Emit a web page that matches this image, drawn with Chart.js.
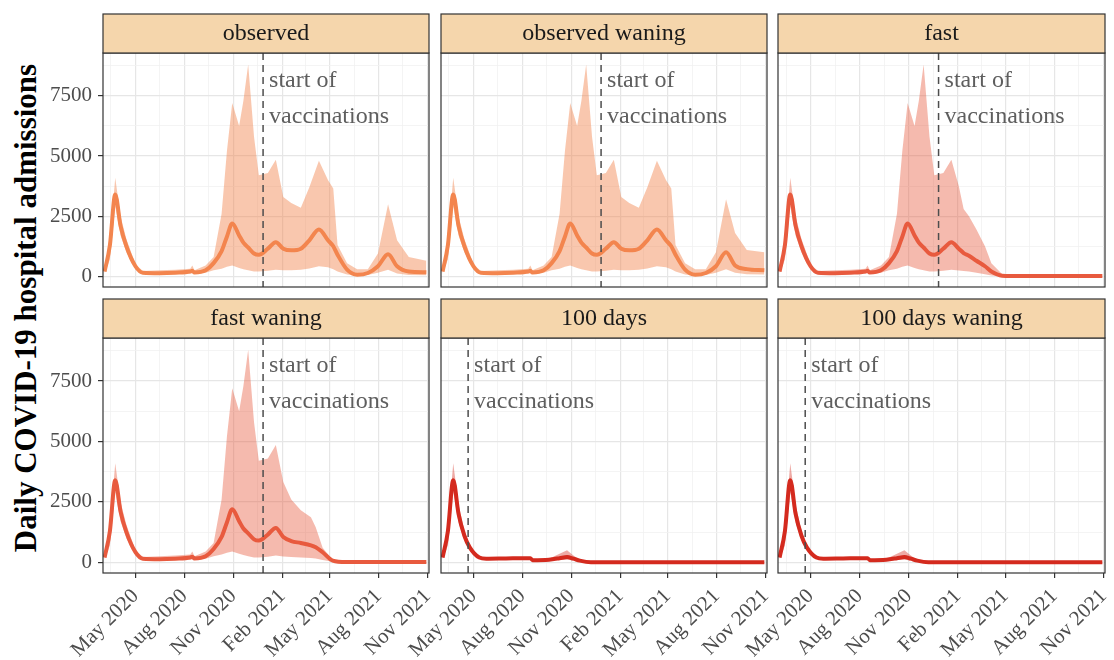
<!DOCTYPE html>
<html>
<head>
<meta charset="utf-8">
<script src="https://cdn.jsdelivr.net/npm/chart.js@4.4.1/dist/chart.umd.min.js"></script>
<style>
body { margin:0; background:#fff; width:1114px; height:660px; overflow:hidden; position:relative; }
canvas { position:absolute; left:0; top:0; }
#ytitle { position:absolute; left:26px; top:308px; transform:translate(-50%,-50%) rotate(-90deg); white-space:nowrap;
  font:bold 31px "Liberation Serif", serif; color:#000; }
</style>
</head>
<body>
<div id="ytitle">Daily COVID-19 hospital admissions</div>
<canvas id="c0" width="1114" height="660"></canvas>
<canvas id="c1" width="1114" height="660"></canvas>
<canvas id="c2" width="1114" height="660"></canvas>
<canvas id="c3" width="1114" height="660"></canvas>
<canvas id="c4" width="1114" height="660"></canvas>
<canvas id="c5" width="1114" height="660"></canvas>
<script>
// --- data ---
const obsDates = ['2020-03-04','2020-03-14','2020-03-24','2020-04-03','2020-04-14','2020-05-01','2020-05-15','2020-06-15','2020-07-15','2020-08-12',
  '2020-08-16','2020-08-20','2020-09-10','2020-09-25','2020-10-10','2020-10-20','2020-10-30','2020-11-12','2020-11-20','2020-11-29',
  '2020-12-10','2020-12-19','2021-01-05','2021-01-20','2021-02-03','2021-02-18','2021-03-08','2021-03-24','2021-04-11','2021-04-28',
  '2021-05-08','2021-05-16','2021-06-03','2021-06-22','2021-07-12','2021-07-31','2021-08-19','2021-09-05','2021-09-27','2021-10-30'];
const obsMedian = [200,1300,3400,2100,1250,420,150,130,150,200,
  230,160,250,550,1050,1650,2200,1700,1400,1200,
  950,900,1150,1420,1150,1080,1150,1500,1950,1500,
  1250,900,280,70,140,420,920,420,200,170];
const obsUpper = [280,1500,4100,2500,1550,500,220,250,280,320,
  450,250,450,800,2600,5200,7200,6250,7300,8800,
  5800,4200,4300,4850,3300,3050,2850,3700,4800,4000,
  3650,1300,550,300,300,950,3000,1500,800,650];
const obsLower = [120,700,2900,1700,1000,300,100,90,100,120,
  150,110,150,250,320,400,450,350,300,250,
  200,200,230,280,250,250,270,330,420,380,
  300,200,80,30,60,150,270,120,60,50];

const owMedian = [200,1300,3400,2100,1250,420,150,130,150,200,
  230,160,250,550,1050,1650,2200,1700,1400,1200,
  950,900,1150,1420,1150,1080,1150,1500,1950,1500,
  1250,900,280,70,140,420,1000,450,300,250];
const owUpper = [280,1500,4100,2500,1550,500,220,250,280,320,
  450,250,450,800,2600,5200,7200,6250,7300,8800,
  5800,4200,4300,4850,3300,3050,2850,3700,4800,4000,
  3650,1300,550,300,300,1000,3200,1800,1100,1000];
const owLower = [120,700,2900,1700,1000,300,100,90,100,120,
  150,110,150,250,320,400,450,350,300,250,
  200,200,230,280,250,250,270,330,420,380,
  300,200,80,30,60,150,300,150,90,80];

const fastDates = obsDates.slice(0, 24).concat(['2021-02-03','2021-02-12','2021-02-22','2021-03-08','2021-03-24','2021-04-05','2021-04-25','2021-06-01','2021-08-01','2021-10-30']);
const fastMedian = obsMedian.slice(0, 24).concat([1150,970,860,650,420,200,30,10,10,10]);
const fastUpper = obsUpper.slice(0, 24).concat([3740,2800,2500,1950,1250,550,100,15,15,15]);
const fastLower = obsLower.slice(0, 24).concat([240,220,200,150,90,40,5,0,0,0]);

const fwDates = obsDates.slice(0, 24).concat(['2021-02-03','2021-02-18','2021-03-08','2021-03-27','2021-04-05','2021-04-18','2021-05-07','2021-06-01','2021-08-01','2021-10-30']);
const fwMedian = obsMedian.slice(0, 24).concat([1050,880,800,700,620,415,70,10,10,10]);
const fwUpper = obsUpper.slice(0, 24).concat([3320,2600,2150,1870,1450,600,100,15,15,15]);
const fwLower = obsLower.slice(0, 24).concat([240,220,200,180,160,100,20,0,0,0]);

const hDates = ['2020-03-04','2020-03-14','2020-03-24','2020-04-03','2020-04-14','2020-04-24','2020-05-12','2020-05-25','2020-07-01','2020-08-12',
  '2020-08-16','2020-08-20','2020-09-20','2020-10-10','2020-10-24','2020-11-05','2020-11-17','2020-12-08','2021-03-01','2021-10-30'];
const hMedian = [200,1300,3400,2000,1100,620,200,150,160,170,170,90,110,170,220,150,70,5,0,0];
const hUpper = [280,1500,4100,2400,1300,700,230,170,180,200,220,110,150,350,500,280,100,10,5,5];
const hLower = [120,700,2900,1650,900,500,170,130,140,140,120,70,80,100,110,80,40,0,0,0];

const xMajorDates = ['2020-05-01','2020-08-01','2020-11-01','2021-02-01','2021-05-01','2021-08-01','2021-11-01'];
const xMajorLabels = ['May 2020','Aug 2020','Nov 2020','Feb 2021','May 2021','Aug 2021','Nov 2021'];
const yMajor = [0, 2500, 5000, 7500];
const annotLines = ['start of', 'vaccinations'];
const annotY = [7870, 6390];

// --- helpers ---
const dayOf = s => (Date.UTC(+s.slice(0,4), +s.slice(5,7) - 1, +s.slice(8,10)) - Date.UTC(2020,0,1)) / 86400000;
const xMin = dayOf('2020-03-01'), xMax = dayOf('2021-11-04');
const yMin = -442, yMax = 9282;

var xTicks = [];
var majors = xMajorDates.map(dayOf);
xTicks.push({v: majors[0] - (majors[1] - majors[0]) / 2, label: '', major: false});
majors.forEach(function(m, i){
    xTicks.push({v: m, label: xMajorLabels[i], major: true});
    if (i < majors.length - 1) xTicks.push({v: (m + majors[i+1]) / 2, label: '', major: false});
});
var yTicks = [];
yMajor.forEach(function(v, i){
    yTicks.push({v: v, label: String(v), major: true});
    yTicks.push({v: v + 1250, label: '', major: false});
});

const pts = (dates, vals) => dates.map((d, i) => ({x: dayOf(d), y: vals[i]}));

const cols = [[103,429],[441,767],[778,1105]];
const rows = [[53,287],[338,573]];
const Y_AXIS_W = 62, X_AXIS_H = 86;
const serif = '"Liberation Serif", "Times New Roman", serif';

const panels = [
  {title:'observed', dates:obsDates, med:obsMedian, up:obsUpper, lo:obsLower, vacc:'2020-12-27', line:'#F3854E', ribbon:'rgba(243,133,78,0.46)'},
  {title:'observed waning', dates:obsDates, med:owMedian, up:owUpper, lo:owLower, vacc:'2020-12-27', line:'#F3854E', ribbon:'rgba(243,133,78,0.46)'},
  {title:'fast', dates:fastDates, med:fastMedian, up:fastUpper, lo:fastLower, vacc:'2020-12-27', line:'#E85A3E', ribbon:'rgba(232,90,62,0.42)'},
  {title:'fast waning', dates:fwDates, med:fwMedian, up:fwUpper, lo:fwLower, vacc:'2020-12-27', line:'#E85A3E', ribbon:'rgba(232,90,62,0.42)'},
  {title:'100 days', dates:hDates, med:hMedian, up:hUpper, lo:hLower, vacc:'2020-04-21', line:'#D42A1E', ribbon:'rgba(212,42,30,0.4)'},
  {title:'100 days waning', dates:hDates, med:hMedian, up:hUpper, lo:hLower, vacc:'2020-04-21', line:'#D42A1E', ribbon:'rgba(212,42,30,0.4)'}
];

function decoPlugin(p){
    return {
        id: 'deco',
        afterDatasetsDraw: function(chart){
            var ctx = chart.ctx, a = chart.chartArea;
            var vx = chart.scales.x.getPixelForValue(dayOf(p.vacc));
            ctx.save();
            ctx.strokeStyle = '#4d4d4d';
            ctx.lineWidth = 1.5;
            ctx.setLineDash([7, 5]);
            ctx.beginPath();
            ctx.moveTo(vx, a.top);
            ctx.lineTo(vx, a.bottom);
            ctx.stroke();
            ctx.setLineDash([]);
            ctx.fillStyle = '#5e5e5e';
            ctx.font = '24px ' + serif;
            ctx.textAlign = 'left';
            ctx.textBaseline = 'alphabetic';
            annotLines.forEach(function(t, i){
                ctx.fillText(t, vx + 6, chart.scales.y.getPixelForValue(annotY[i]));
            });
            ctx.restore();
        },
        afterDraw: function(chart){
            var ctx = chart.ctx, a = chart.chartArea;
            ctx.save();
            ctx.strokeStyle = '#333333';
            ctx.lineWidth = 1.2;
            ctx.strokeRect(a.left, a.top, a.right - a.left, a.bottom - a.top);
            ctx.fillStyle = '#F5D6AC';
            ctx.fillRect(a.left, a.top - 39, a.right - a.left, 39);
            ctx.strokeRect(a.left, a.top - 39, a.right - a.left, 39);
            ctx.fillStyle = '#1a1a1a';
            ctx.font = '24px ' + serif;
            ctx.textAlign = 'center';
            ctx.textBaseline = 'middle';
            ctx.fillText(p.title, (a.left + a.right) / 2, a.top - 19.5);
            ctx.restore();
        }
    };
}

panels.forEach(function(p, k){
    var col = cols[k % 3], row = rows[Math.floor(k / 3)];
    var showX = k >= 3, showY = k % 3 === 0;
    new Chart(document.getElementById('c' + k), {
        type: 'line',
        data: {
            datasets: [{
                data: pts(p.dates, p.med),
                borderColor: p.line,
                borderWidth: 4,
                pointRadius: 0,
                cubicInterpolationMode: 'monotone',
                fill: false,
                order: 0
            },{
                data: pts(p.dates, p.up),
                borderWidth: 0,
                borderColor: 'rgba(0,0,0,0)',
                backgroundColor: p.ribbon,
                pointRadius: 0,
                tension: 0,
                fill: '+1',
                order: 1
            },{
                data: pts(p.dates, p.lo),
                borderWidth: 0,
                borderColor: 'rgba(0,0,0,0)',
                pointRadius: 0,
                tension: 0,
                fill: false,
                order: 2
            }]
        },
        options: {
            responsive: false,
            animation: false,
            events: [],
            layout: {padding: {left: col[0] - Y_AXIS_W, right: 1114 - col[1], top: row[0], bottom: 660 - row[1] - X_AXIS_H}},
            plugins: {legend: {display: false}, tooltip: {enabled: false}},
            scales: {
                x: {
                    type: 'linear', min: xMin, max: xMax,
                    afterBuildTicks: function(s){ s.ticks = xTicks.map(function(t){ return {value: t.v}; }); },
                    afterFit: function(s){ s.height = X_AXIS_H; s.paddingLeft = 0; s.paddingRight = 0; s.paddingTop = 0; s.paddingBottom = 0; },
                    border: {display: false},
                    grid: {
                        color: function(c){ return xTicks[c.index] && xTicks[c.index].major ? '#e6e6e6' : '#f1f1f1'; },
                        lineWidth: function(c){ return xTicks[c.index] && xTicks[c.index].major ? 1.2 : 0.8; },
                        tickLength: 5,
                        tickColor: function(c){ return showX && xTicks[c.index] && xTicks[c.index].major ? '#333333' : 'rgba(0,0,0,0)'; },
                        tickWidth: 1.2
                    },
                    ticks: {
                        display: showX, autoSkip: false, minRotation: 45, maxRotation: 45, padding: 6,
                        color: '#4d4d4d', font: {family: serif, size: 21},
                        callback: function(v, i){ return xTicks[i] ? xTicks[i].label : ''; }
                    }
                },
                y: {
                    min: yMin, max: yMax,
                    afterBuildTicks: function(s){ s.ticks = yTicks.map(function(t){ return {value: t.v}; }); },
                    afterFit: function(s){ s.width = Y_AXIS_W; s.paddingLeft = 0; s.paddingRight = 0; s.paddingTop = 0; s.paddingBottom = 0; },
                    border: {display: false},
                    grid: {
                        color: function(c){ return yTicks[c.index] && yTicks[c.index].major ? '#e6e6e6' : '#f1f1f1'; },
                        lineWidth: function(c){ return yTicks[c.index] && yTicks[c.index].major ? 1.2 : 0.8; },
                        tickLength: 5,
                        tickColor: function(c){ return showY && yTicks[c.index] && yTicks[c.index].major ? '#333333' : 'rgba(0,0,0,0)'; },
                        tickWidth: 1.2
                    },
                    ticks: {
                        display: showY, padding: 6,
                        color: '#4d4d4d', font: {family: serif, size: 21},
                        callback: function(v, i){ return yTicks[i] ? yTicks[i].label : ''; }
                    }
                }
            }
        },
        plugins: [decoPlugin(p)]
    });
});
</script>
</body>
</html>
